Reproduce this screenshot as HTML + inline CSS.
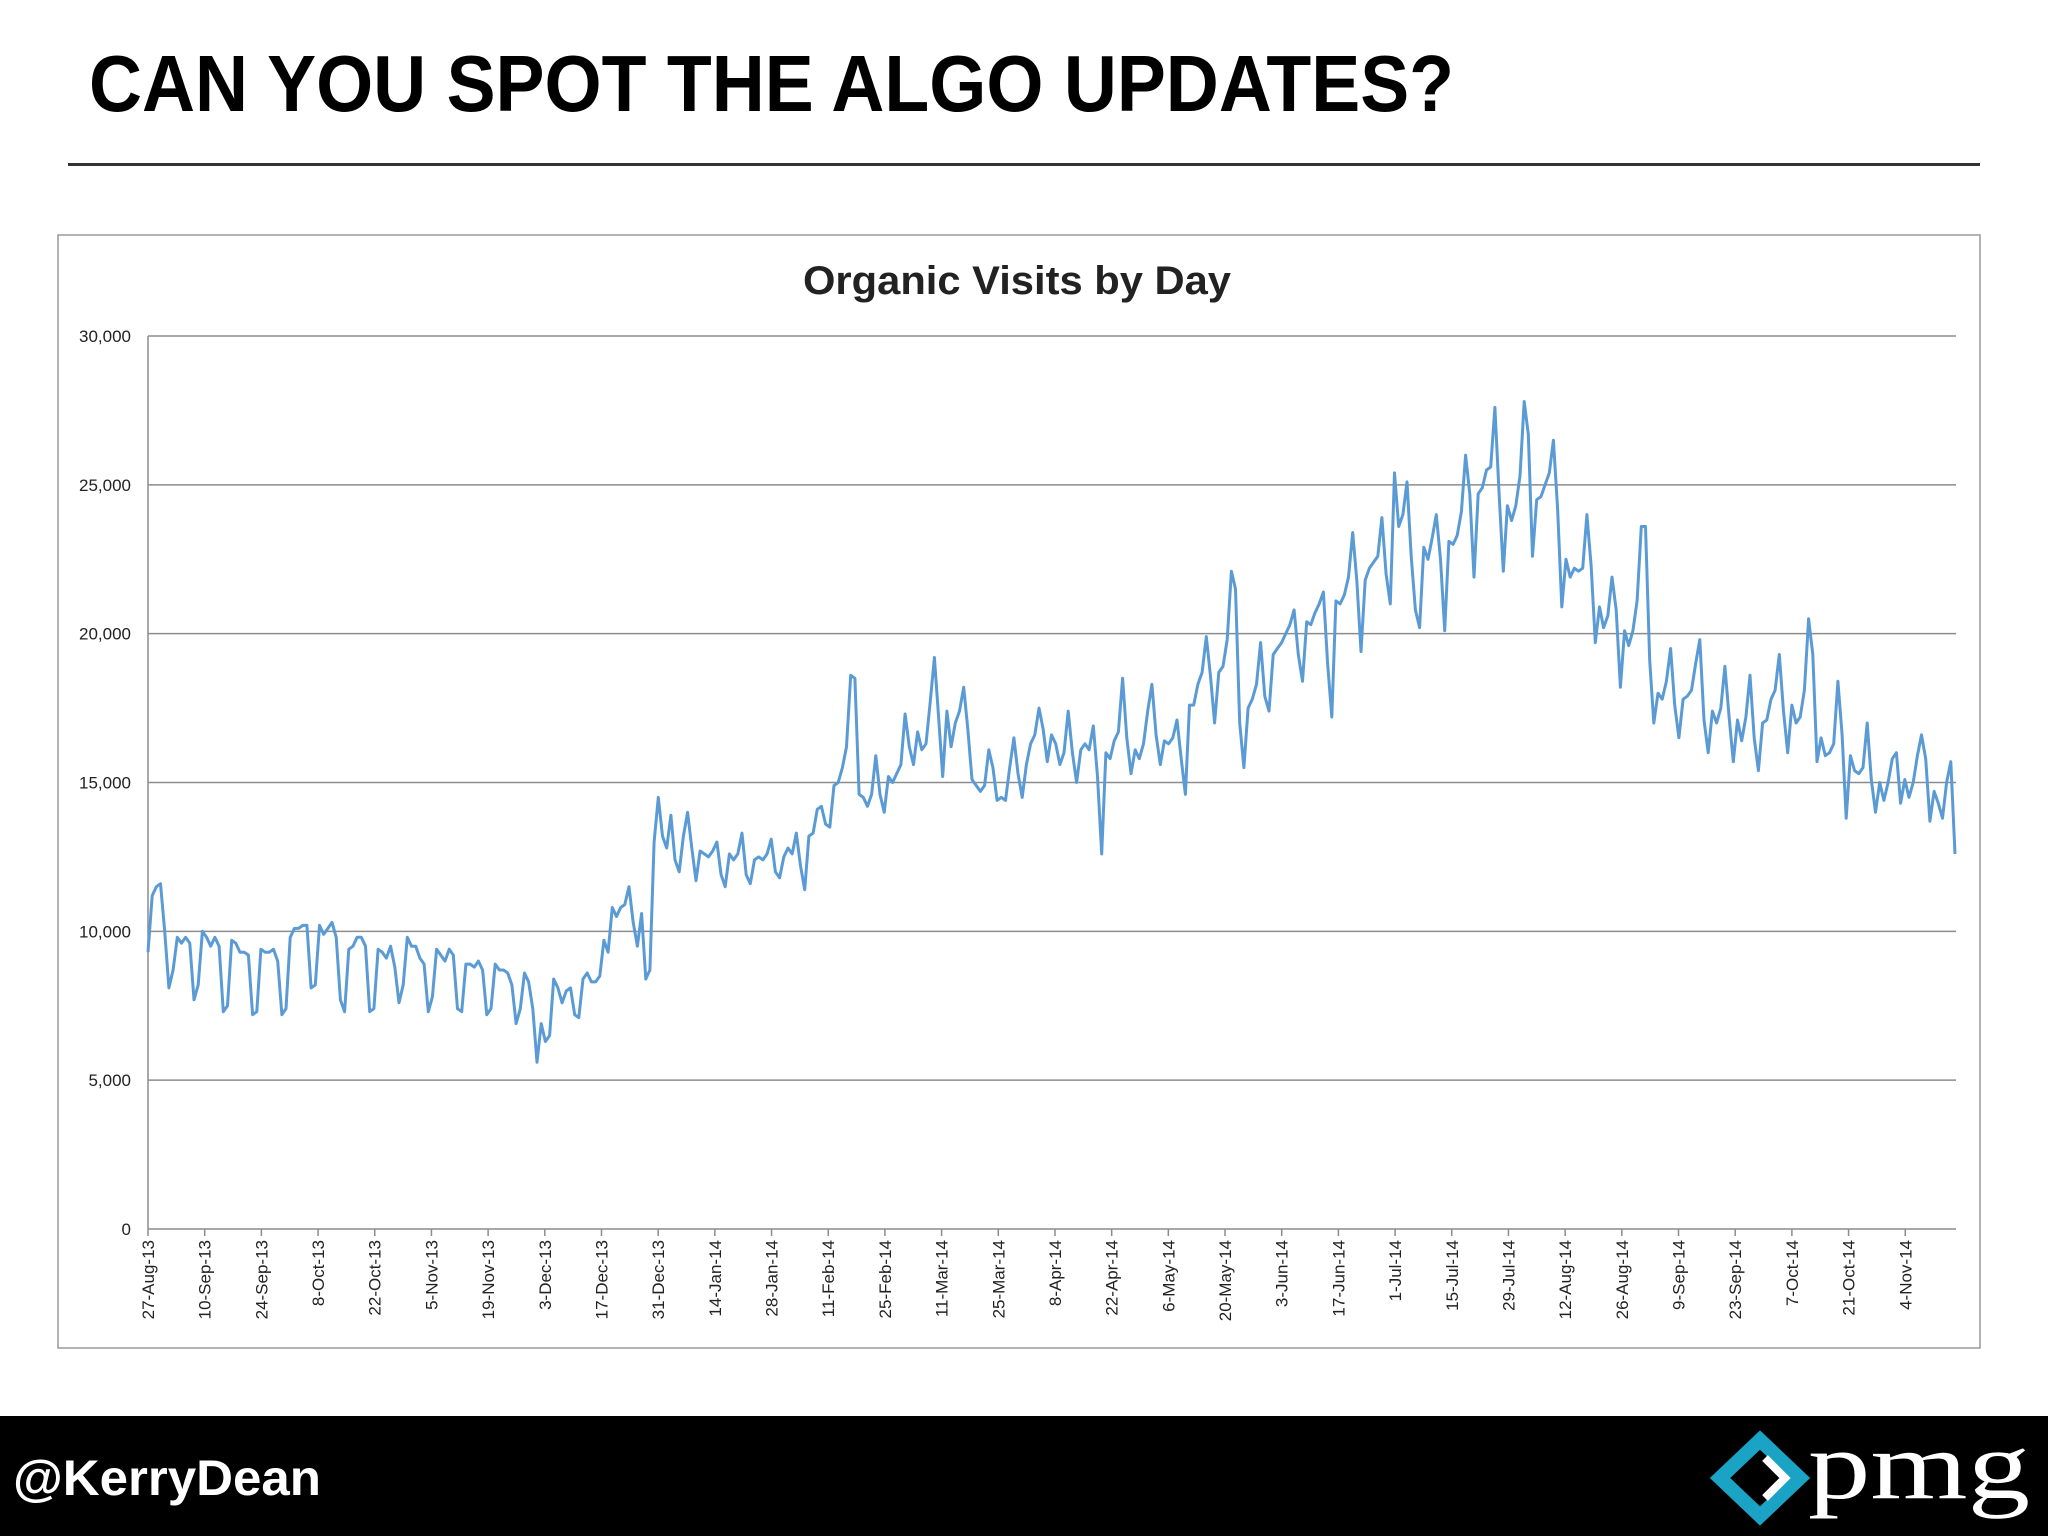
<!DOCTYPE html>
<html><head><meta charset="utf-8"><style>
html,body{margin:0;padding:0;background:#fff}
svg{display:block}
</style></head><body>
<svg id="page" width="2048" height="1536" viewBox="0 0 2048 1536" xmlns="http://www.w3.org/2000/svg" font-family="'Liberation Sans', sans-serif">
<text x="89" y="111" font-size="80" font-weight="bold" fill="#000" textLength="1365" lengthAdjust="spacingAndGlyphs">CAN YOU SPOT THE ALGO UPDATES?</text>
<rect x="68" y="163" width="1912" height="3" fill="#333"/>
<rect x="58" y="235" width="1922" height="1113" fill="#fff" stroke="#999" stroke-width="1.5"/>
<text x="1017" y="294" font-size="40" font-weight="bold" fill="#222" text-anchor="middle" textLength="428" lengthAdjust="spacingAndGlyphs">Organic Visits by Day</text>
<g id="grid"></g><g id="yl"></g><g id="xl"></g><g id="series"></g>
<rect x="0" y="1416" width="2048" height="120" fill="#000"/>
<text x="13" y="1495" font-size="50" font-weight="bold" fill="#fff" textLength="308" lengthAdjust="spacingAndGlyphs">@KerryDean</text>
<g>
<path d="M1760 1440 L1800 1478 L1760 1516 L1720 1478 Z" fill="none" stroke="#1aa3c4" stroke-width="14"/>
<path d="M1765 1458 L1785 1478 L1765 1498" fill="none" stroke="#fff" stroke-width="8"/>
<text x="1808" y="1498" font-size="96" font-family="'Liberation Serif', serif" fill="#fff" textLength="222" lengthAdjust="spacingAndGlyphs">pmg</text>
</g>
</svg>
<script>
const yTicks=[0,5000,10000,15000,20000,25000,30000];
const xTickLabels=["27-Aug-13","10-Sep-13","24-Sep-13","8-Oct-13","22-Oct-13","5-Nov-13","19-Nov-13","3-Dec-13","17-Dec-13","31-Dec-13","14-Jan-14","28-Jan-14","11-Feb-14","25-Feb-14","11-Mar-14","25-Mar-14","8-Apr-14","22-Apr-14","6-May-14","20-May-14","3-Jun-14","17-Jun-14","1-Jul-14","15-Jul-14","29-Jul-14","12-Aug-14","26-Aug-14","9-Sep-14","23-Sep-14","7-Oct-14","21-Oct-14","4-Nov-14"];
const visitsK=[
9.3,11.2,11.5,11.6,10,8.1,8.7,9.8,9.6,9.8,9.6,7.7,8.2,10,
9.8,9.5,9.8,9.5,7.3,7.5,9.7,9.6,9.3,9.3,9.2,7.2,7.3,9.4,
9.3,9.3,9.4,9.0,7.2,7.4,9.8,10.1,10.1,10.2,10.2,8.1,8.2,10.2,
9.9,10.1,10.3,9.8,7.7,7.3,9.4,9.5,9.8,9.8,9.5,7.3,7.4,9.4,
9.3,9.1,9.5,8.8,7.6,8.2,9.8,9.5,9.5,9.1,8.9,7.3,7.8,9.4,
9.2,9.0,9.4,9.2,7.4,7.3,8.9,8.9,8.8,9.0,8.7,7.2,7.4,8.9,
8.7,8.7,8.6,8.2,6.9,7.4,8.6,8.3,7.4,5.6,6.9,6.3,6.5,8.4,
8.1,7.6,8.0,8.1,7.2,7.1,8.4,8.6,8.3,8.3,8.5,9.7,9.3,10.8,
10.5,10.8,10.9,11.5,10.3,9.5,10.6,8.4,8.7,13.0,14.5,13.2,12.8,13.9,
12.4,12.0,13.2,14.0,12.8,11.7,12.7,12.6,12.5,12.7,13.0,11.9,11.5,12.6,
12.4,12.6,13.3,11.9,11.6,12.4,12.5,12.4,12.6,13.1,12.0,11.8,12.5,12.8,
12.6,13.3,12.2,11.4,13.2,13.3,14.1,14.2,13.6,13.5,14.9,15.0,15.5,
16.2,18.6,18.5,14.6,14.5,14.2,14.6,15.9,14.6,14.0,15.2,15.0,15.3,
15.6,17.3,16.2,15.6,16.7,16.1,16.3,17.7,19.2,17.2,15.2,17.4,16.2,17.0,
17.4,18.2,16.8,15.1,14.9,14.7,14.9,16.1,15.5,14.4,14.5,14.4,15.5,
16.5,15.3,14.5,15.6,16.3,16.6,17.5,16.8,15.7,16.6,16.3,15.6,16.0,
17.4,16.0,15.0,16.1,16.3,16.1,16.9,15.2,12.6,16.0,15.8,16.4,16.7,
18.5,16.5,15.3,16.1,15.8,16.3,17.4,18.3,16.6,15.6,16.4,16.3,16.5,
17.1,15.8,14.6,17.6,17.6,18.3,18.7,19.9,18.6,17.0,18.7,18.9,19.8,
22.1,21.5,17.0,15.5,17.5,17.8,18.3,19.7,17.9,17.4,19.3,19.5,19.7,20.0,
20.3,20.8,19.3,18.4,20.4,20.3,20.7,21.0,21.4,19.0,17.2,21.1,21.0,
21.3,21.9,23.4,21.8,19.4,21.8,22.2,22.4,22.6,23.9,22.0,21.0,25.4,23.6,
24.0,25.1,22.6,20.8,20.2,22.9,22.5,23.2,24.0,22.5,20.1,23.1,23.0,
23.3,24.1,26.0,24.7,21.9,24.7,24.9,25.5,25.6,27.6,24.7,22.1,24.3,23.8,
24.3,25.3,27.8,26.7,22.6,24.5,24.6,25.0,25.4,26.5,24.2,20.9,22.5,21.9,
22.2,22.1,22.2,24.0,22.3,19.7,20.9,20.2,20.6,21.9,20.8,18.2,20.1,
19.6,20.1,21.1,23.6,23.6,19.1,17.0,18.0,17.8,18.4,19.5,17.6,16.5,17.8,
17.9,18.1,19.0,19.8,17.1,16.0,17.4,17.0,17.5,18.9,17.2,15.7,17.1,
16.4,17.2,18.6,16.5,15.4,17.0,17.1,17.8,18.1,19.3,17.4,16.0,17.6,17.0,
17.2,18.1,20.5,19.3,15.7,16.5,15.9,16.0,16.3,18.4,16.6,13.8,15.9,15.4,
15.3,15.5,17.0,15.1,14.0,15.0,14.4,15.0,15.8,16.0,14.3,15.1,14.5,
15.0,15.9,16.6,15.8,13.7,14.7,14.3,13.8,15.0,15.7,12.6];
const NS='http://www.w3.org/2000/svg';
const L=148,R=1956,T=336,B=1229,YMAX=30000;
const dayW=3.1*2048/1568;
const sx=i=>L+i*dayW;
const DATA_END=1955;
const sxData=i=>L+i*(DATA_END-L)/(visitsK.length-1);
const sy=v=>B-(v/YMAX)*(B-T);
function mk(tag,attrs,parent){const e=document.createElementNS(NS,tag);for(const k in attrs)e.setAttribute(k,attrs[k]);parent.appendChild(e);return e;}
const grid=document.getElementById('grid'),yl=document.getElementById('yl'),xl=document.getElementById('xl'),ser=document.getElementById('series');
yTicks.forEach(v=>{
  const g=mk('line',{x1:L,x2:R,y1:sy(v),y2:sy(v),stroke:'#8c8c8c','stroke-width':1.5},grid);
  
  
  const t=mk('text',{x:131,y:sy(v)+6,'font-size':17,'text-anchor':'end',fill:'#222'},yl);
  t.textContent=v.toLocaleString('en-US');
  
  
});
const ax=mk('line',{x1:L,x2:L,y1:T,y2:B,stroke:'#8c8c8c','stroke-width':1.5},grid);


xTickLabels.forEach((lab,k)=>{
  const x=sx(k*14);
  const tk=mk('line',{x1:x,x2:x,y1:B,y2:B+7,stroke:'#8c8c8c','stroke-width':1.5},xl);
  
  
  const t=mk('text',{x:0,y:0,'font-size':17,'text-anchor':'end',fill:'#222',transform:`translate(${x+6},${B+11}) rotate(-90)`},xl);
  t.textContent=lab;
  
  
});
const pts=visitsK.map((v,i)=>sxData(i).toFixed(1)+','+sy(v*1000).toFixed(1)).join(' ');
const pl=mk('polyline',{points:pts,fill:'none',stroke:'#5b9bd5','stroke-width':3,'stroke-linejoin':'round'},ser);


</script>
</body></html>
